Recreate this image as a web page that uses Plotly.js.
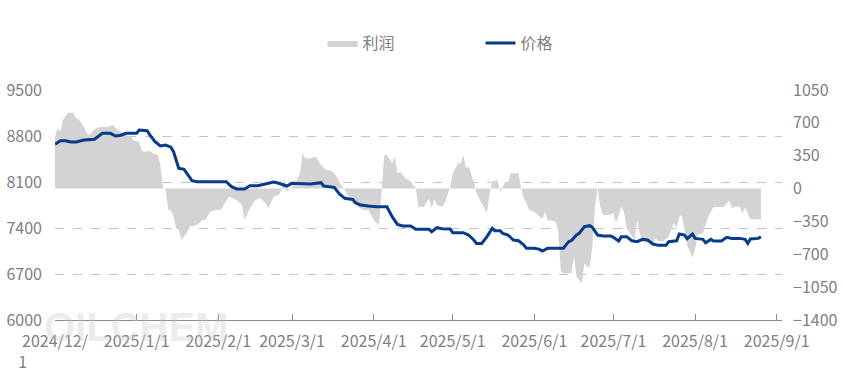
<!DOCTYPE html>
<html>
<head>
<meta charset="utf-8">
<script src="https://cdn.plot.ly/plotly-3.0.1.min.js"></script>
<style>html,body{margin:0;padding:0;background:#fff;}#chart{width:843px;height:379px;}</style>
</head>
<body>
<div id="chart"></div>
<script>
const seriesNames = ['利润', '价格'];

const priceDates = ['2024-12-01','2024-12-03','2024-12-05','2024-12-07','2024-12-09','2024-12-12','2024-12-16','2024-12-19','2024-12-22','2024-12-24','2024-12-26','2024-12-28',
'2025-01-01','2025-01-02','2025-01-05','2025-01-06','2025-01-08','2025-01-10','2025-01-12','2025-01-14','2025-01-15','2025-01-17','2025-01-19','2025-01-21','2025-01-22','2025-01-24',
'2025-02-04','2025-02-06','2025-02-08','2025-02-11','2025-02-13','2025-02-16','2025-02-19','2025-02-22','2025-02-24','2025-02-27',
'2025-03-01','2025-03-04','2025-03-08','2025-03-12','2025-03-13','2025-03-17','2025-03-19','2025-03-21','2025-03-24','2025-03-25','2025-03-27','2025-03-30',
'2025-04-02','2025-04-06','2025-04-08','2025-04-10','2025-04-12','2025-04-15','2025-04-17','2025-04-22','2025-04-23','2025-04-25','2025-04-27','2025-04-30',
'2025-05-01','2025-05-05','2025-05-07','2025-05-09','2025-05-10','2025-05-12','2025-05-14','2025-05-16','2025-05-17','2025-05-19','2025-05-20','2025-05-22','2025-05-24','2025-05-26','2025-05-28','2025-05-29',
'2025-06-01','2025-06-03','2025-06-04','2025-06-06','2025-06-12','2025-06-14','2025-06-15','2025-06-17','2025-06-18','2025-06-20','2025-06-22','2025-06-23','2025-06-25','2025-06-27','2025-06-30',
'2025-07-01','2025-07-03','2025-07-04','2025-07-06','2025-07-08','2025-07-10','2025-07-12','2025-07-14','2025-07-16','2025-07-18','2025-07-21','2025-07-22','2025-07-25','2025-07-26','2025-07-28','2025-07-29','2025-07-31',
'2025-08-01','2025-08-04','2025-08-05','2025-08-07','2025-08-08','2025-08-11','2025-08-13','2025-08-15','2025-08-18','2025-08-20','2025-08-21','2025-08-22','2025-08-25','2025-08-26'];
const priceValues = [8673,8728,8728,8709,8709,8739,8750,8841,8841,8800,8811,8841,
8841,8891,8881,8815,8713,8648,8663,8630,8561,8308,8293,8181,8120,8105,
8105,8029,7994,7994,8044,8044,8069,8100,8080,8039,
8080,8080,8069,8090,8039,8019,7917,7851,7835,7785,7750,7734,
7724,7724,7572,7455,7430,7430,7380,7380,7344,7405,7390,7385,
7328,7328,7293,7217,7166,7166,7268,7395,7359,7359,7319,7293,7217,7206,7141,7090,
7090,7075,7050,7090,7090,7192,7206,7293,7319,7420,7435,7410,7293,7278,7278,
7258,7202,7268,7268,7206,7192,7227,7217,7156,7136,7136,7192,7206,7308,7293,7237,7308,
7242,7227,7176,7227,7202,7202,7258,7242,7242,7227,7166,7232,7242,7268];

const profitDates = ['2024-12-01','2024-12-02','2024-12-03','2024-12-04','2024-12-06','2024-12-08','2024-12-09','2024-12-10','2024-12-12','2024-12-13','2024-12-14','2024-12-16','2024-12-18','2024-12-21','2024-12-23','2024-12-24','2024-12-26','2024-12-28','2024-12-30','2024-12-31',
'2025-01-02','2025-01-03','2025-01-04','2025-01-06','2025-01-07','2025-01-09','2025-01-10','2025-01-11','2025-01-12','2025-01-13','2025-01-14','2025-01-15','2025-01-16','2025-01-17','2025-01-18','2025-01-19','2025-01-20','2025-01-21','2025-01-24','2025-01-26','2025-01-27','2025-01-29','2025-01-31',
'2025-02-02','2025-02-03','2025-02-05','2025-02-08','2025-02-10','2025-02-11','2025-02-13','2025-02-15','2025-02-17','2025-02-19','2025-02-20','2025-02-22','2025-02-24','2025-02-25','2025-02-26','2025-02-27',
'2025-03-01','2025-03-02','2025-03-04','2025-03-05','2025-03-06','2025-03-08','2025-03-10','2025-03-12','2025-03-14','2025-03-16','2025-03-18','2025-03-20','2025-03-21','2025-03-22','2025-03-24','2025-03-26','2025-03-28','2025-03-30',
'2025-04-01','2025-04-03','2025-04-04','2025-04-05','2025-04-06','2025-04-08','2025-04-09','2025-04-10','2025-04-11','2025-04-13','2025-04-15','2025-04-16','2025-04-17','2025-04-18','2025-04-20','2025-04-22','2025-04-23','2025-04-24','2025-04-25','2025-04-27','2025-04-28','2025-04-30',
'2025-05-01','2025-05-03','2025-05-04','2025-05-05','2025-05-06','2025-05-07','2025-05-09','2025-05-10','2025-05-11','2025-05-12','2025-05-14','2025-05-15','2025-05-16','2025-05-18','2025-05-19','2025-05-21','2025-05-22','2025-05-23','2025-05-26','2025-05-27','2025-05-28','2025-05-29','2025-05-30',
'2025-06-01','2025-06-04','2025-06-05','2025-06-06','2025-06-09','2025-06-10','2025-06-11','2025-06-12','2025-06-14','2025-06-15','2025-06-16','2025-06-17','2025-06-19','2025-06-20','2025-06-21','2025-06-22','2025-06-23','2025-06-24','2025-06-25','2025-06-26','2025-06-27','2025-06-29',
'2025-07-01','2025-07-02','2025-07-04','2025-07-05','2025-07-06','2025-07-08','2025-07-09','2025-07-10','2025-07-11','2025-07-12','2025-07-14','2025-07-16','2025-07-17','2025-07-18','2025-07-20','2025-07-22','2025-07-23','2025-07-24','2025-07-25','2025-07-26','2025-07-27','2025-07-28','2025-07-29','2025-07-31',
'2025-08-01','2025-08-02','2025-08-04','2025-08-06','2025-08-08','2025-08-10','2025-08-12','2025-08-14','2025-08-15','2025-08-16','2025-08-18','2025-08-19','2025-08-20','2025-08-22','2025-08-26'];
const profitValues = [553,642,606,731,808,808,749,738,659,589,571,631,653,659,677,642,606,571,546,510,
499,404,393,404,376,358,251,3,-7,-228,-230,-300,-423,-441,-547,-512,-476,-405,-388,-334,-334,-246,-228,
-228,-175,-86,-121,-175,-334,-210,-121,-103,-157,-210,-86,-68,-15,110,-33,
20,38,163,376,323,323,340,251,198,191,127,20,-15,-68,-103,-193,-228,-228,
-334,-388,-30,358,358,269,340,163,180,110,74,38,0,-193,-193,-103,-210,-114,-175,-193,-157,18,
163,269,269,358,216,233,74,-50,-103,-157,-263,-50,74,92,-33,74,56,163,163,0,-103,-157,-228,
-246,-324,-246,-334,-352,-441,-880,-902,-902,-902,-725,-938,-1009,-796,-832,-832,-619,-193,18,-193,-281,-281,
-263,-370,-193,-246,-423,-512,-547,-334,-476,-565,-583,-583,-529,-558,-558,-512,-441,-363,-423,-299,-281,-423,-601,-736,
-654,-494,-476,-299,-193,-199,-193,-129,-210,-193,-193,-263,-199,-327,-327];

const xTickVals = ['2024-12-01','2025-01-01','2025-02-01','2025-03-01','2025-04-01','2025-05-01','2025-06-01','2025-07-01','2025-08-01','2025-09-01'];
const xTickText = ['2024/12/<br>1' + '\u00a0'.repeat(18),'2025/1/1','2025/2/1','2025/3/1','2025/4/1','2025/5/1','2025/6/1','2025/7/1','2025/8/1','2025/9/1'];
const priceTicks = [6000, 6700, 7400, 8100, 8800, 9500];
const profitTicks = [-1400, -1050, -700, -350, 0, 350, 700, 1050];

const FONT = '"Noto Sans CJK SC", "Noto Sans", sans-serif';
const GREY = '#808080';

const traces = [
  {
    name: seriesNames[0], x: profitDates, y: profitValues, type: 'scatter', mode: 'lines',
    fill: 'tozeroy', fillcolor: '#d3d3d3', line: {width: 0, color: '#d3d3d3'},
    xaxis: 'x', yaxis: 'y', hoverinfo: 'skip'
  },
  {
    name: seriesNames[1], x: priceDates, y: priceValues, type: 'scatter', mode: 'lines',
    line: {color: '#083b8c', width: 3}, xaxis: 'x', yaxis: 'y2', hoverinfo: 'skip'
  }
];

const layout = {
  width: 843, height: 379,
  margin: {l: 55, r: 61, t: 90, b: 59, pad: 0},
  paper_bgcolor: '#ffffff', plot_bgcolor: '#ffffff',
  font: {family: FONT, size: 16, color: GREY},
  showlegend: true,
  legend: {
    orientation: 'h', x: 0.368, xanchor: 'left', y: 1.204, yanchor: 'middle',
    entrywidth: 113, entrywidthmode: 'pixels',
    font: {family: FONT, size: 16, color: GREY}, bgcolor: 'rgba(0,0,0,0)', traceorder: 'normal'
  },
  xaxis: {
    type: 'date', range: ['2024-12-01', '2025-09-03'],
    tickmode: 'array', tickvals: xTickVals, ticktext: xTickText,
    showgrid: false, zeroline: false,
    showline: true, linecolor: '#8c8c8c', linewidth: 1,
    ticks: 'inside', ticklen: 6, tickcolor: '#8c8c8c', tickwidth: 1,
    tickfont: {family: FONT, size: 16, color: GREY}, ticklabelstandoff: 7
  },
  yaxis: {
    side: 'right', range: [-1400, 1050], tickmode: 'array', tickvals: profitTicks,
    showgrid: false, zeroline: false, showline: false, ticks: '',
    tickfont: {family: FONT, size: 16, color: GREY}, ticklabelstandoff: 10
  },
  yaxis2: {
    overlaying: 'y', side: 'left', range: [6000, 9500], tickmode: 'array', tickvals: priceTicks,
    showgrid: true, gridcolor: '#c4c4c4', gridwidth: 1, griddash: 'dash',
    zeroline: false, showline: false, ticks: '',
    tickfont: {family: FONT, size: 16, color: GREY}, ticklabelstandoff: 12
  },
  annotations: [
    {text: '<b>OILCHEM</b>', xref: 'paper', yref: 'paper', x: 0.112, y: -0.03, xanchor: 'center', yanchor: 'middle',
     showarrow: false, font: {family: 'Liberation Sans, Arial, sans-serif', size: 40, color: 'rgba(200,200,200,0.35)'}}
  ]
};

Plotly.newPlot('chart', traces, layout, {staticPlot: true, displayModeBar: false});
</script>
</body>
</html>
